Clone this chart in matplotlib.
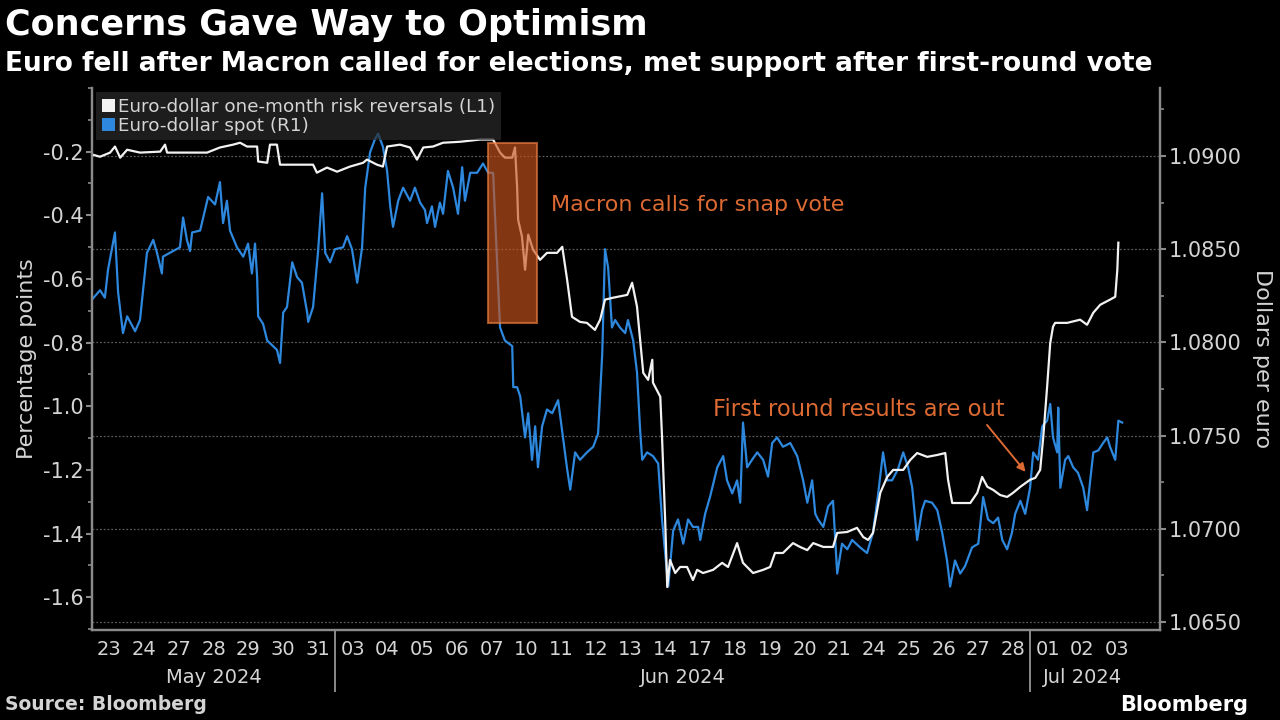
import matplotlib
matplotlib.use("Agg")
import matplotlib.pyplot as plt
from matplotlib.patches import Rectangle, Patch
from matplotlib.ticker import MultipleLocator, FixedLocator, FuncFormatter
from matplotlib import transforms

# --- data (x = trading days since 23 May 2024, intraday fractions) ---
rr_t = [0.00, 0.23, 0.52, 0.66, 0.81, 1.01, 1.38, 1.96, 2.10, 2.16, 2.73, 3.31, 3.68, 4.06, 4.26,
        4.46, 4.75, 4.78, 5.04, 5.12, 5.32, 5.41, 6.36, 6.47, 6.76, 7.05, 7.42, 7.80, 7.91, 8.20,
        8.37, 8.49, 8.86, 9.15, 9.35, 9.53, 9.81, 10.10, 10.59, 11.17, 11.54, 11.74, 11.88, 12.09,
        12.17, 12.23, 12.26, 12.37, 12.46, 12.55, 12.69, 12.89, 13.09, 13.38, 13.53, 13.67, 13.81,
        14.04, 14.24, 14.47, 14.62, 14.76, 14.99, 15.40, 15.54, 15.68, 15.77, 15.86, 16.00, 16.12,
        16.14, 16.35, 16.40, 16.49, 16.55, 16.63, 16.78, 16.92, 17.12, 17.29, 17.41, 17.58, 17.87,
        18.13, 18.30, 18.56, 18.73, 19.02, 19.31, 19.51, 19.65, 19.88, 20.17, 20.37, 20.58, 20.75,
        21.04, 21.32, 21.44, 21.73, 22.01, 22.19, 22.33, 22.47, 22.68, 22.88, 23.05, 23.34, 23.54,
        23.74, 24.03, 24.32, 24.55, 24.63, 24.75, 24.98, 25.27, 25.47, 25.61, 25.76, 25.93, 26.13,
        26.33, 26.50, 26.71, 26.99, 27.14, 27.28, 27.37, 27.48, 27.57, 27.65, 27.71, 28.06, 28.43,
        28.63, 28.81, 29.01, 29.29, 29.44, 29.50, 29.53]
rr_v = [-0.209, -0.216, -0.203, -0.184, -0.219, -0.194, -0.203, -0.200, -0.178, -0.203, -0.203,
        -0.203, -0.187, -0.178, -0.172, -0.184, -0.184, -0.231, -0.235, -0.178, -0.178, -0.241,
        -0.241, -0.266, -0.250, -0.263, -0.247, -0.235, -0.225, -0.241, -0.247, -0.184, -0.178,
        -0.187, -0.225, -0.187, -0.184, -0.172, -0.169, -0.162, -0.162, -0.203, -0.219, -0.219,
        -0.187, -0.310, -0.414, -0.467, -0.571, -0.461, -0.508, -0.540, -0.518, -0.518, -0.499,
        -0.603, -0.719, -0.735, -0.738, -0.760, -0.728, -0.665, -0.659, -0.650, -0.612, -0.687,
        -0.791, -0.895, -0.917, -0.854, -0.926, -0.970, -1.096, -1.357, -1.568, -1.483, -1.524,
        -1.505, -1.505, -1.546, -1.514, -1.524, -1.514, -1.492, -1.505, -1.430, -1.492, -1.524,
        -1.514, -1.505, -1.461, -1.461, -1.430, -1.442, -1.452, -1.430, -1.442, -1.442, -1.398,
        -1.395, -1.382, -1.411, -1.420, -1.398, -1.272, -1.222, -1.200, -1.200, -1.169, -1.147,
        -1.159, -1.153, -1.147, -1.231, -1.304, -1.304, -1.304, -1.272, -1.222, -1.253, -1.263,
        -1.279, -1.285, -1.272, -1.253, -1.231, -1.225, -1.200, -1.096, -0.939, -0.801, -0.750,
        -0.738, -0.738, -0.728, -0.744, -0.706, -0.681, -0.665, -0.656, -0.571, -0.486]

spot_t = [0.00, 0.23, 0.37, 0.46, 0.66, 0.75, 0.89, 1.01, 1.24, 1.38, 1.58, 1.76, 1.87, 2.01, 2.04,
          2.33, 2.53, 2.62, 2.73, 2.82, 2.88, 3.11, 3.34, 3.54, 3.68, 3.77, 3.88, 3.97, 4.17, 4.35,
          4.49, 4.60, 4.69, 4.75, 4.78, 4.92, 5.04, 5.32, 5.41, 5.50, 5.61, 5.76, 5.90, 6.04, 6.19,
          6.22, 6.36, 6.50, 6.62, 6.71, 6.85, 6.99, 7.22, 7.34, 7.48, 7.63, 7.77, 7.86, 8.00, 8.14,
          8.23, 8.37, 8.49, 8.58, 8.66, 8.81, 8.95, 9.15, 9.29, 9.44, 9.58, 9.64, 9.78, 9.87, 10.01,
          10.10, 10.24, 10.39, 10.53, 10.65, 10.73, 10.88, 11.08, 11.25, 11.40, 11.54, 11.74, 11.88,
          12.09, 12.12, 12.23, 12.32, 12.46, 12.55, 12.66, 12.75, 12.83, 12.95, 13.09, 13.24, 13.41,
          13.55, 13.67, 13.76, 13.90, 14.04, 14.24, 14.42, 14.56, 14.68, 14.76, 14.85, 14.96, 15.05,
          15.19, 15.34, 15.42, 15.57, 15.68, 15.77, 15.83, 15.97, 16.14, 16.29, 16.40, 16.49, 16.58,
          16.72, 16.86, 17.01, 17.15, 17.29, 17.44, 17.50, 17.64, 17.78, 17.99, 18.16, 18.27, 18.42,
          18.56, 18.65, 18.73, 18.85, 18.99, 19.14, 19.31, 19.45, 19.57, 19.71, 19.88, 20.09, 20.29,
          20.46, 20.58, 20.72, 20.81, 20.89, 21.04, 21.18, 21.32, 21.44, 21.58, 21.73, 21.87, 22.10,
          22.30, 22.47, 22.62, 22.76, 22.88, 23.02, 23.19, 23.34, 23.48, 23.60, 23.74, 23.88, 23.97,
          24.17, 24.32, 24.46, 24.60, 24.69, 24.83, 24.98, 25.12, 25.32, 25.50, 25.64, 25.78, 25.93,
          26.07, 26.19, 26.33, 26.47, 26.56, 26.71, 26.85, 26.99, 27.08, 27.22, 27.34, 27.48, 27.57,
          27.65, 27.77, 27.80, 27.86, 28.00, 28.09, 28.23, 28.37, 28.52, 28.63, 28.72, 28.81, 28.95,
          29.09, 29.21, 29.29, 29.44, 29.53, 29.64]
spot_v = [1.0823, 1.0828, 1.0824, 1.0839, 1.0859, 1.0827, 1.0805, 1.0814, 1.0806, 1.0812, 1.0848,
          1.0855, 1.0848, 1.0837, 1.0846, 1.0849, 1.0851, 1.0867, 1.0855, 1.0849, 1.0859, 1.0860,
          1.0878, 1.0874, 1.0886, 1.0864, 1.0876, 1.0860, 1.0851, 1.0846, 1.0853, 1.0837, 1.0853,
          1.0835, 1.0814, 1.0810, 1.0801, 1.0796, 1.0789, 1.0816, 1.0819, 1.0843, 1.0835, 1.0832,
          1.0816, 1.0811, 1.0819, 1.0848, 1.0880, 1.0848, 1.0843, 1.0850, 1.0851, 1.0857, 1.0850,
          1.0832, 1.0851, 1.0883, 1.0902, 1.0909, 1.0912, 1.0905, 1.0892, 1.0873, 1.0862, 1.0876,
          1.0883, 1.0876, 1.0883, 1.0875, 1.0871, 1.0864, 1.0873, 1.0862, 1.0875, 1.0869, 1.0892,
          1.0883, 1.0869, 1.0894, 1.0876, 1.0891, 1.0891, 1.0896, 1.0891, 1.0891, 1.0808, 1.0801,
          1.0798, 1.0776, 1.0776, 1.0771, 1.0749, 1.0762, 1.0737, 1.0755, 1.0733, 1.0755, 1.0764,
          1.0762, 1.0769, 1.0749, 1.0732, 1.0721, 1.0741, 1.0737, 1.0741, 1.0744, 1.0751, 1.0794,
          1.0850, 1.0840, 1.0808, 1.0812, 1.0808, 1.0805, 1.0812, 1.0801, 1.0784, 1.0753, 1.0737,
          1.0741, 1.0739, 1.0735, 1.0705, 1.0687, 1.0669, 1.0699, 1.0705, 1.0692, 1.0705, 1.0701,
          1.0701, 1.0694, 1.0708, 1.0717, 1.0733, 1.0739, 1.0726, 1.0719, 1.0726, 1.0714, 1.0757,
          1.0733, 1.0737, 1.0741, 1.0737, 1.0728, 1.0746, 1.0749, 1.0744, 1.0746, 1.0739, 1.0726,
          1.0714, 1.0726, 1.0708, 1.0705, 1.0701, 1.0712, 1.0715, 1.0676, 1.0692, 1.0689, 1.0694,
          1.0690, 1.0687, 1.0698, 1.0719, 1.0741, 1.0726, 1.0726, 1.0732, 1.0741, 1.0733, 1.0722,
          1.0694, 1.0710, 1.0715, 1.0714, 1.0710, 1.0698, 1.0683, 1.0669, 1.0683, 1.0676, 1.0680,
          1.0690, 1.0692, 1.0717, 1.0705, 1.0703, 1.0706, 1.0694, 1.0689, 1.0698, 1.0708, 1.0715,
          1.0708, 1.0722, 1.0741, 1.0737, 1.0755, 1.0758, 1.0767, 1.0749, 1.0741, 1.0765, 1.0722,
          1.0737, 1.0739, 1.0733, 1.0730, 1.0722, 1.0710, 1.0726, 1.0741, 1.0742, 1.0746, 1.0749,
          1.0744, 1.0737, 1.0758, 1.0757]

day_labels = ["23", "24", "27", "28", "29", "30", "31",
              "03", "04", "05", "06", "07", "10", "11", "12", "13", "14", "17", "18", "19", "20",
              "21", "24", "25", "26", "27", "28",
              "01", "02", "03"]
months = ["May 2024", "Jun 2024", "Jul 2024"]
month_days = [7, 20, 3]
left_ticks = [-1.6, -1.4, -1.2, -1.0, -0.8, -0.6, -0.4, -0.2]

# event window (Macron calls vote) in trading-day units / left-axis units
macron_span = (11.40, 12.81)
macron_rr = (-0.738, -0.172)

BG = "black"
WHITE = "#f2f2f2"
BLUE = "#2d88de"
ORANGE = "#dc6a32"
TXT = "#d4d4d4"
AXC = "#8a8a8a"

fig = plt.figure(figsize=(12.8, 7.2), dpi=100, facecolor=BG)
ax = fig.add_axes([0.0719, 0.125, 0.8344, 0.7528])
ax2 = ax.twinx()
ax.set_zorder(ax2.get_zorder() + 1)
ax.patch.set_visible(False)
ax2.set_facecolor(BG)

ax2.plot(spot_t, spot_v, color=BLUE, lw=1.6)
ax.plot(rr_t, rr_v, color=WHITE, lw=1.6)

ax.set_xlim(0, 30.73)
ax.set_ylim(-1.703, 0.0)
ax2.set_ylim(1.06457, 1.09365)

# grid from right axis
ax2.yaxis.set_major_locator(MultipleLocator(0.005))
ax2.yaxis.set_minor_locator(MultipleLocator(0.0025))
ax2.yaxis.set_major_formatter(FuncFormatter(lambda v, p: f"{v:.4f}"))
ax2.grid(axis="y", color="#5a5a5a", linestyle=(0, (1.5, 1.5)), lw=0.9)
ax2.set_axisbelow(True)

ax.yaxis.set_major_locator(FixedLocator(left_ticks))
ax.yaxis.set_minor_locator(MultipleLocator(0.1))
ax.yaxis.set_major_formatter(FuncFormatter(lambda v, p: f"{v:.1f}"))

for a in (ax, ax2):
    for s in a.spines.values():
        s.set_color(AXC)
        s.set_linewidth(1.6)
    a.spines["top"].set_visible(False)
    a.tick_params(axis="y", which="major", colors=AXC, labelcolor=TXT, labelsize=15,
                  length=4, width=1.5, pad=2)
    a.tick_params(axis="y", which="minor", colors=AXC, length=3, width=1.2)

# x axis: day labels and month groups
centers = [i + 0.5 for i in range(len(day_labels))]
ax.set_xticks(centers)
ax.set_xticklabels(day_labels)
ax.tick_params(axis="x", length=0, labelsize=14, labelcolor=TXT, pad=7)
ax2.tick_params(axis="x", length=0, labelbottom=False)

trans = transforms.blended_transform_factory(ax.transData, ax.transAxes)
start = 0
for name, n in zip(months, month_days):
    ax.text(start + n / 2, -0.087, name, transform=trans, ha="center", va="center",
            fontsize=14, color=TXT)
    if start > 0:
        ax.plot([start, start], [0, -0.112], transform=trans, color=AXC, lw=1.4, clip_on=False)
    start += n

ax.set_ylabel("Percentage points", color=TXT, fontsize=16, labelpad=4)
ax2.set_ylabel("Dollars per euro", color=TXT, fontsize=16, rotation=270, labelpad=22)

# Macron box
ax.add_patch(Rectangle((macron_span[0], macron_rr[0]), macron_span[1] - macron_span[0],
                       macron_rr[1] - macron_rr[0], facecolor="#c9541c", alpha=0.65,
                       edgecolor="#f08040", lw=1.5, zorder=5))
ax.text(13.21, -0.367, "Macron calls for snap vote", color=ORANGE, fontsize=16,
        ha="left", va="center", zorder=6)
ax.text(17.87, -1.011, "First round results are out", color=ORANGE, fontsize=16.3,
        ha="left", va="center", zorder=6)
ax.annotate("", xy=(26.91, -1.213), xytext=(25.70, -1.052),
            arrowprops=dict(arrowstyle="-|>", color=ORANGE, lw=1.4, mutation_scale=12),
            zorder=6)

handles = [Patch(facecolor=WHITE, edgecolor="none"), Patch(facecolor=BLUE, edgecolor="none")]
leg = ax.legend(handles, ["Euro-dollar one-month risk reversals (L1)", "Euro-dollar spot (R1)"],
                loc="upper left", bbox_to_anchor=(0.004, 0.992), borderaxespad=0,
                fontsize=13.2, frameon=True, facecolor="#2a2a2a", framealpha=0.7,
                edgecolor="none", handlelength=0.7, handleheight=0.7, handletextpad=0.2,
                labelspacing=0.05, borderpad=0.3, fancybox=False)
for t in leg.get_texts():
    t.set_color(TXT)
leg.set_zorder(10)

fig.text(0.004, 0.965, "Concerns Gave Way to Optimism", color="white", fontsize=25.2,
         fontweight="bold", ha="left", va="center")
fig.text(0.004, 0.911, "Euro fell after Macron called for elections, met support after first-round vote",
         color="white", fontsize=19, fontweight="bold", ha="left", va="center")
fig.text(0.004, 0.021, "Source: Bloomberg", color=TXT, fontsize=13.5, fontweight="bold",
         ha="left", va="center")
fig.text(0.975, 0.021, "Bloomberg", color="white", fontsize=15, fontweight="bold",
         ha="right", va="center")

fig.savefig("out.png", dpi=100, facecolor=BG)
